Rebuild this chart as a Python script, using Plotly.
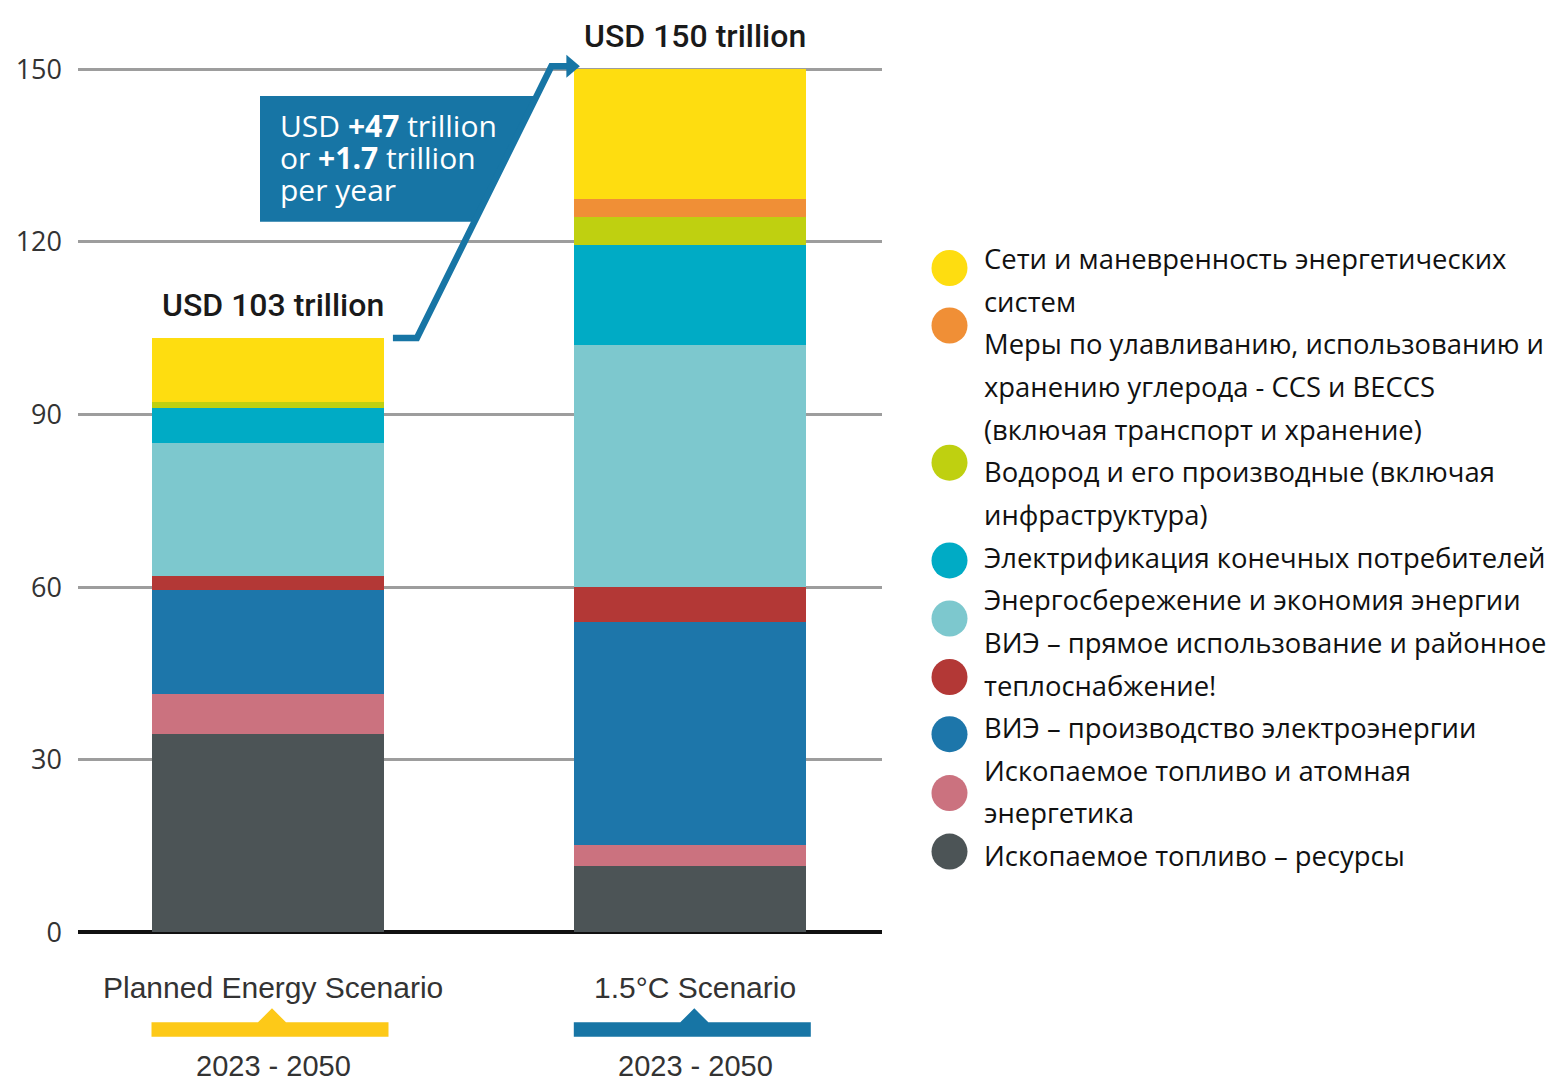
import textwrap
import plotly.graph_objects as go

# ---------------- DATA ----------------
scenarios = ["Planned Energy Scenario", "1.5°C Scenario"]
period_years = [2023, 2050]
y_tick_values = [0, 30, 60, 90, 120, 150]

# series, bottom -> top of the stack (USD trillion, 2023-2050)
series_names = [
    "Ископаемое топливо – ресурсы",
    "Ископаемое топливо и атомная энергетика",
    "ВИЭ – производство электроэнергии",
    "ВИЭ – прямое использование и районное теплоснабжение!",
    "Энергосбережение и экономия энергии",
    "Электрификация конечных потребителей",
    "Водород и его производные (включая инфраструктура)",
    "Меры по улавливанию, использованию и хранению углерода - CCS и BECCS (включая транспорт и хранение)",
    "Сети и маневренность энергетических систем",
]
fossil_resources = [34.4, 11.6]
fossil_nuclear = [7.1, 3.6]
re_power = [18.0, 38.8]
re_direct = [2.4, 6.0]
efficiency = [23.1, 42.1]
electrification = [6.2, 17.4]
hydrogen = [0.9, 4.9]
ccs = [0.0, 3.0]
grids = [11.2, 22.6]
series_values = [fossil_resources, fossil_nuclear, re_power, re_direct, efficiency,
                 electrification, hydrogen, ccs, grids]

# ---------------- STYLE / LAYOUT ----------------
series_colors = ["#4C5456", "#CB727F", "#1D76AA", "#B33836", "#7DC8CE",
                 "#00ABC5", "#BFD010", "#F08F36", "#FEDD10"]
scenario_marker_colors = ["#FDC918", "#1775A5"]
CALLOUT_COLOR = "#1775A5"

W, H = 1560, 1085
PLOT_L, PLOT_R = 78, 882
Y0_PX, PX_PER_UNIT = 932.3, 5.753
X0_PX, PX_PER_CAT = 268.0, 422.3
BAR_W = 0.549

FONT_MAIN = "Open Sans, Noto Sans, sans-serif"
FONT_TITLE = "Roboto, Liberation Sans, sans-serif"
FONT_LABEL = "Liberation Sans, Arial, sans-serif"


def paper_x(px):
    return (px - PLOT_L) / (PLOT_R - PLOT_L)


def paper_y(py):
    return 1 - py / H


def val_py(v):
    return Y0_PX - v * PX_PER_UNIT


def cat_px(i):
    return X0_PX + i * PX_PER_CAT


def poly_path(pts, close=True):
    p = "M " + " L ".join(f"{paper_x(px):.5f},{paper_y(py):.5f}" for px, py in pts)
    return p + (" Z" if close else "")


fig = go.Figure()
for name, vals, col in zip(series_names, series_values, series_colors):
    fig.add_trace(go.Bar(
        x=list(range(len(scenarios))), y=vals, name=name,
        marker=dict(color=col, line=dict(width=0)),
        width=BAR_W, showlegend=False, hoverinfo="name+y",
    ))

totals = [sum(s[i] for s in series_values) for i in range(len(scenarios))]
annotations = []
shapes = []

# totals above the bars
for i, t in enumerate(totals):
    annotations.append(dict(
        xref="paper", yref="paper", x=paper_x(cat_px(i) + 5), y=paper_y(val_py(t) - 33),
        text=f"USD {round(t)} trillion", showarrow=False, xanchor="center", yanchor="middle",
        font=dict(family=FONT_TITLE, size=32, color="#1a1a1a", weight=500),
    ))

# scenario labels, markers and periods under the axis
period_text = f"{period_years[0]} - {period_years[1]}"
for i, sc in enumerate(scenarios):
    cx = cat_px(i)
    annotations.append(dict(
        xref="paper", yref="paper", x=paper_x(cx + 5), y=paper_y(987),
        text=sc, showarrow=False, xanchor="center", yanchor="middle",
        font=dict(family=FONT_LABEL, size=30, color="#333333"),
    ))
    annotations.append(dict(
        xref="paper", yref="paper", x=paper_x(cx + 5), y=paper_y(1066),
        text=period_text, showarrow=False, xanchor="center", yanchor="middle",
        font=dict(family=FONT_LABEL, size=29, color="#333333"),
    ))
    x1, x2 = cx - 116.5, cx + 120.5
    ax = cx + 4
    pts = [(x1, 1022.3), (ax - 14, 1022.3), (ax, 1008.3), (ax + 14, 1022.3),
           (x2, 1022.3), (x2, 1036.7), (x1, 1036.7)]
    shapes.append(dict(type="path", xref="paper", yref="paper", path=poly_path(pts),
                       fillcolor=scenario_marker_colors[i], line=dict(width=0)))

# callout arrow from the planned total to the 1.5°C total
half_bar_px = BAR_W * PX_PER_CAT / 2
y_start = val_py(totals[0])
y_end = val_py(totals[1]) - 3
xs0 = cat_px(0) + half_bar_px + 9
xk0 = xs0 + 24
xk1 = cat_px(1) - half_bar_px - 23
xt = cat_px(1) - half_bar_px - 6
arrow_pts = [(xs0, y_start), (xk0, y_start), (xk1, y_end), (xt, y_end)]
shapes.append(dict(type="path", xref="paper", yref="paper", path=poly_path(arrow_pts, close=False),
                   line=dict(color=CALLOUT_COLOR, width=6.5), fillcolor="rgba(0,0,0,0)"))
head = [(xt - 2, y_end - 11.5), (xt + 11.5, y_end), (xt - 2, y_end + 11.5)]
shapes.append(dict(type="path", xref="paper", yref="paper", path=poly_path(head),
                   fillcolor=CALLOUT_COLOR, line=dict(width=0)))


# callout box, right edge running along the arrow
def line_x_at(py):
    return xk0 + (xk1 - xk0) * (y_start - py) / (y_start - y_end)


box_top, box_bot, box_left = 96, 221.7, 260
box_pts = [(box_left, box_top), (line_x_at(box_top), box_top),
           (line_x_at(box_bot), box_bot), (box_left, box_bot)]
shapes.append(dict(type="path", xref="paper", yref="paper", path=poly_path(box_pts),
                   fillcolor=CALLOUT_COLOR, line=dict(width=0), layer="below"))

diff = round(totals[1]) - round(totals[0])
per_year = diff / (period_years[1] - period_years[0])
box_lines = [f"USD <b>+{diff}</b> trillion", f"or <b>+{per_year:.1f}</b> trillion", "per year"]
for k, ln in enumerate(box_lines):
    annotations.append(dict(
        xref="paper", yref="paper", x=paper_x(278), y=paper_y(125.5 + k * 31.8),
        text=ln, showarrow=False, xanchor="left", yanchor="middle",
        font=dict(family=FONT_MAIN, size=30, color="white"),
    ))

# custom legend (top -> bottom = reverse stack order)
legend_dot_py = [268, 325.5, 462.7, 560.4, 618.5, 677, 734.2, 793.1, 851.6]
line_idx = 0
for j, idx in enumerate(reversed(range(len(series_names)))):
    name = series_names[idx]
    col = series_colors[idx]
    cy = legend_dot_py[j]
    r = 18
    shapes.append(dict(type="circle", xref="paper", yref="paper",
                       x0=paper_x(949.5 - r), x1=paper_x(949.5 + r),
                       y0=paper_y(cy + r), y1=paper_y(cy - r),
                       fillcolor=col, line=dict(width=0)))
    for ln in textwrap.wrap(name, width=37):
        annotations.append(dict(
            xref="paper", yref="paper", x=paper_x(982), y=paper_y(258.5 + line_idx * 42.65),
            text=ln, showarrow=False, xanchor="left", yanchor="middle",
            font=dict(family=FONT_MAIN, size=27.4, color="#111111"),
        ))
        line_idx += 1

fig.update_layout(
    width=W, height=H, autosize=False,
    margin=dict(l=PLOT_L, r=W - PLOT_R, t=0, b=0, pad=0),
    paper_bgcolor="white", plot_bgcolor="white",
    barmode="stack",
    annotations=annotations, shapes=shapes,
    showlegend=False,
    xaxis=dict(range=[(PLOT_L - X0_PX) / PX_PER_CAT, (PLOT_R - X0_PX) / PX_PER_CAT],
               showgrid=False, zeroline=False, showticklabels=False, showline=False, ticks=""),
    yaxis=dict(range=[(Y0_PX - H) / PX_PER_UNIT, Y0_PX / PX_PER_UNIT],
               tickvals=y_tick_values, ticktext=[str(v) for v in y_tick_values],
               showgrid=True, gridcolor="#9d9d9d", gridwidth=3,
               zeroline=True, zerolinecolor="#111111", zerolinewidth=4,
               showline=False, ticks="", ticklabelstandoff=15,
               tickfont=dict(family=FONT_MAIN, size=27, color="#333333")),
)

fig.write_html("out.html", config={"displayModeBar": False},
               post_script="document.body.style.margin='0';")
